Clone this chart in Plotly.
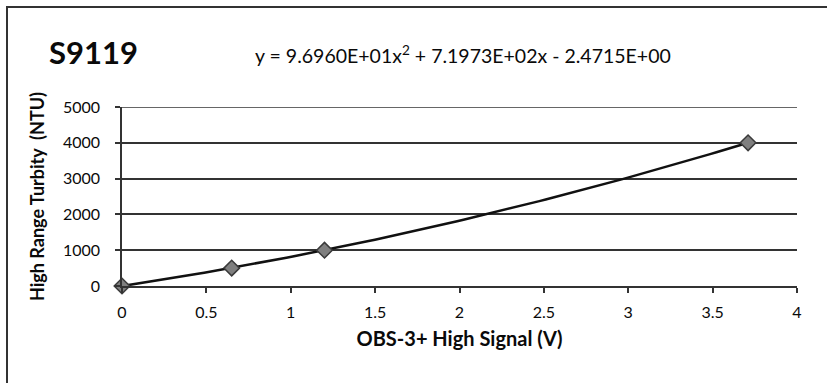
import numpy as np
import plotly.graph_objects as go

# Data
signal_v = [0.0, 0.65, 1.2, 3.71]
turbidity_ntu = [0.0, 500.0, 1000.0, 4000.0]
# Trendline coefficients as printed on the chart (a*x^2 + b*x + c)
trend_coef = [96.960, 719.73, -2.4715]
x_ticks = [0, 0.5, 1, 1.5, 2, 2.5, 3, 3.5, 4]
x_tick_labels = ["0", "0.5", "1", "1.5", "2", "2.5", "3", "3.5", "4"]
y_ticks = [0, 1000, 2000, 3000, 4000, 5000]
y_tick_labels = ["0", "1000", "2000", "3000", "4000", "5000"]

title_text = "S9119"
eq_text = "y = 9.6960E+01x<sup>2</sup> + 7.1973E+02x - 2.4715E+00"

W, H = 827, 383
L, R, T, B = 122, 797, 107, 286  # plot area in pixels

def px(xp):
    return (xp - L) / (R - L)

def py(yp):
    return (B - yp) / (B - T)

FONT = "Lato"
INK = "#0a0a0a"

tx = np.linspace(min(signal_v), max(signal_v), 100)
ty = np.polyval(trend_coef, tx)

fig = go.Figure()
fig.add_trace(go.Scatter(x=tx, y=ty, mode="lines",
                         line=dict(color="#111111", width=2.5),
                         hoverinfo="skip", showlegend=False))
fig.add_trace(go.Scatter(x=signal_v, y=turbidity_ntu, mode="markers",
                         marker=dict(symbol="diamond", size=12, color="#7f7f7f",
                                     line=dict(color="#3a3a3a", width=1.5)),
                         showlegend=False, cliponaxis=False))

fig.update_layout(
    width=W, height=H,
    margin=dict(l=L, r=W - R, t=T, b=H - B, pad=0),
    paper_bgcolor="white", plot_bgcolor="white",
    font=dict(family=FONT, color=INK),
    xaxis=dict(range=[0, 4], tickvals=x_ticks, ticktext=x_tick_labels,
               showgrid=False, zeroline=False, showline=True,
               linecolor="#333333", linewidth=1.5,
               ticks="outside", ticklen=5, tickcolor="#333333", tickwidth=1.5,
               ticklabelstandoff=6,
               tickfont=dict(size=16, family=FONT, color=INK),
               title=dict(text="<b>OBS-3+ High Signal (V)</b>",
                          font=dict(size=20, family=FONT, color=INK),
                          standoff=12)),
    yaxis=dict(range=[0, 5000], tickvals=y_ticks, ticktext=y_tick_labels,
               showgrid=True, gridcolor="#333333", gridwidth=1.5,
               zeroline=False, showline=True,
               linecolor="#333333", linewidth=1.5,
               ticks="outside", ticklen=5, tickcolor="#333333", tickwidth=1.5,
               ticklabelstandoff=12,
               tickfont=dict(size=16, family=FONT, color=INK),
               title=dict(text="<b>High Range Turbity  (NTU)</b>",
                          font=dict(size=18, family=FONT, color=INK),
                          standoff=14)),
    annotations=[
        dict(text="<b>" + title_text + "</b>", xref="paper", yref="paper",
             x=px(47), y=py(52), xanchor="left", yanchor="middle",
             showarrow=False, font=dict(size=31, family=FONT, color=INK)),
        dict(text=eq_text, xref="paper", yref="paper",
             x=px(253), y=py(54), xanchor="left", yanchor="middle",
             showarrow=False, font=dict(size=19.5, family=FONT, color=INK)),
    ],
    shapes=[
        dict(type="rect", xref="paper", yref="paper",
             x0=px(7), x1=px(840), y0=py(7), y1=py(395),
             line=dict(color="#333333", width=2), layer="below"),
        dict(type="line", xref="paper", yref="y",
             x0=px(L - 5), x1=1, y0=y_ticks[-1], y1=y_ticks[-1],
             line=dict(color="#333333", width=1.5), layer="below"),
    ],
)

fig.write_html("out.html")
